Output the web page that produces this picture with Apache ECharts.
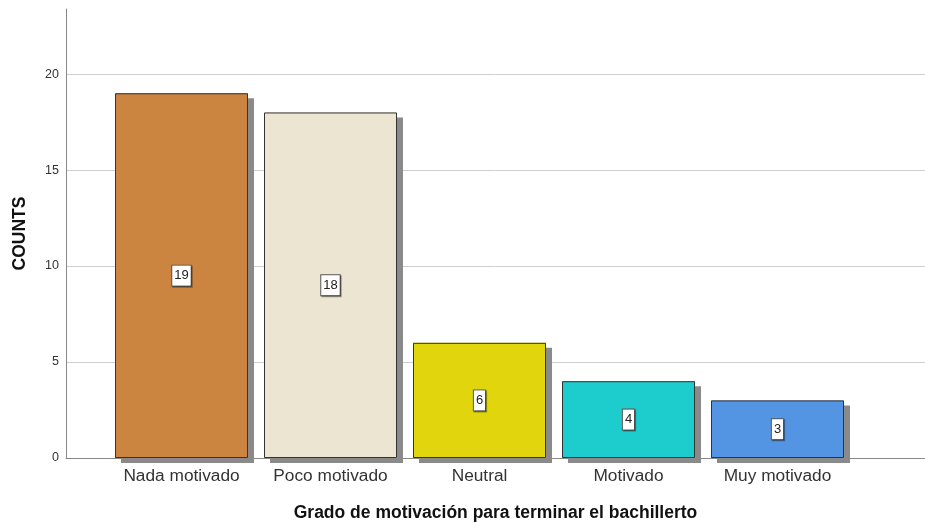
<!DOCTYPE html>
<html><head><meta charset="utf-8">
<script src="https://cdn.jsdelivr.net/npm/echarts@6/dist/echarts.min.js"></script>
<style>html,body{margin:0;padding:0;background:#fff}#c{width:925px;height:522px}</style>
</head><body><div id="c"></div>
<script>
const categories = ['Nada motivado', 'Poco motivado', 'Neutral', 'Motivado', 'Muy motivado'];
const counts = [19, 18, 6, 4, 3];
const yTicks = [0, 5, 10, 15, 20];
const barColors = ['#CC8540', '#EBE5D1', '#E1D60E', '#1DCDCD', '#5395E3'];

const FONT = '"Liberation Sans", Arial, sans-serif';
const YMAX = 23.39;
const chart = echarts.init(document.getElementById('c'));
chart.setOption({
  animation: false,
  textStyle: { fontFamily: FONT },
  grid: [
    { left: 66, right: 0, top: 9, bottom: 64, containLabel: false, outerBoundsMode: 'none' },
    { left: 107, width: 745, top: 9, bottom: 64, containLabel: false, outerBoundsMode: 'none' }
  ],
  xAxis: [
    { gridIndex: 0, type: 'value', min: 0, max: 1, show: true,
      axisLine: { show: true, onZero: false, lineStyle: { color: '#888', width: 1 } },
      axisTick: { show: false }, axisLabel: { show: false }, splitLine: { show: false },
      name: 'Grado de motivación para terminar el bachillerto', nameLocation: 'middle', nameGap: 46,
      nameTextStyle: { fontFamily: FONT, fontSize: 17.5, fontWeight: 'bold', color: '#111' } },
    { gridIndex: 1, type: 'category', data: categories,
      axisLine: { show: false }, axisTick: { show: false },
      axisLabel: { interval: 0, fontFamily: FONT, fontSize: 17.3, color: '#333', margin: 10 } }
  ],
  yAxis: [
    { gridIndex: 0, type: 'value', min: 0, max: YMAX, interval: 5,
      axisLine: { show: true, lineStyle: { color: '#888', width: 1 } },
      axisTick: { show: false },
      axisLabel: { fontFamily: FONT, fontSize: 12.5, color: '#333', margin: 7,
        formatter: v => yTicks.includes(v) ? String(v) : '' },
      splitLine: { show: false },
      name: 'COUNTS', nameLocation: 'middle', nameGap: 37, nameRotate: 90,
      nameTextStyle: { fontFamily: FONT, fontSize: 17.5, fontWeight: 'bold', color: '#111' } },
    { gridIndex: 1, type: 'value', min: 0, max: YMAX, show: false }
  ],
  series: [
    { type: 'line', xAxisIndex: 0, yAxisIndex: 0, data: [], silent: true, z: 0,
      markLine: { silent: true, z: 0, symbol: 'none', label: { show: false },
        lineStyle: { color: '#cfcfcf', width: 1, type: 'solid' },
        data: yTicks.filter(v => v > 0).map(v => ({ yAxis: v })) } },
    { type: 'bar', xAxisIndex: 1, yAxisIndex: 1, barWidth: 133, z: 2,
      data: counts.map((v, i) => ({ value: v, itemStyle: { color: barColors[i] } })),
      itemStyle: { borderWidth: 0,
        shadowColor: '#8a8a8a', shadowOffsetX: 6, shadowOffsetY: 5, shadowBlur: 0 } },
    { type: 'bar', xAxisIndex: 1, yAxisIndex: 1, barWidth: 133, barGap: '-100%', z: 3,
      data: counts,
      itemStyle: { color: 'rgba(0,0,0,0)', borderColor: '#333', borderWidth: 1 },
      label: { show: true, position: 'inside', fontFamily: FONT, fontSize: 13, color: '#222',
        backgroundColor: '#fff', borderColor: '#555', borderWidth: 1, padding: [4, 2, 3, 2],
        shadowColor: 'rgba(0,0,0,0.35)', shadowOffsetX: 1, shadowOffsetY: 1, shadowBlur: 0 } }
  ]
});
</script></body></html>
